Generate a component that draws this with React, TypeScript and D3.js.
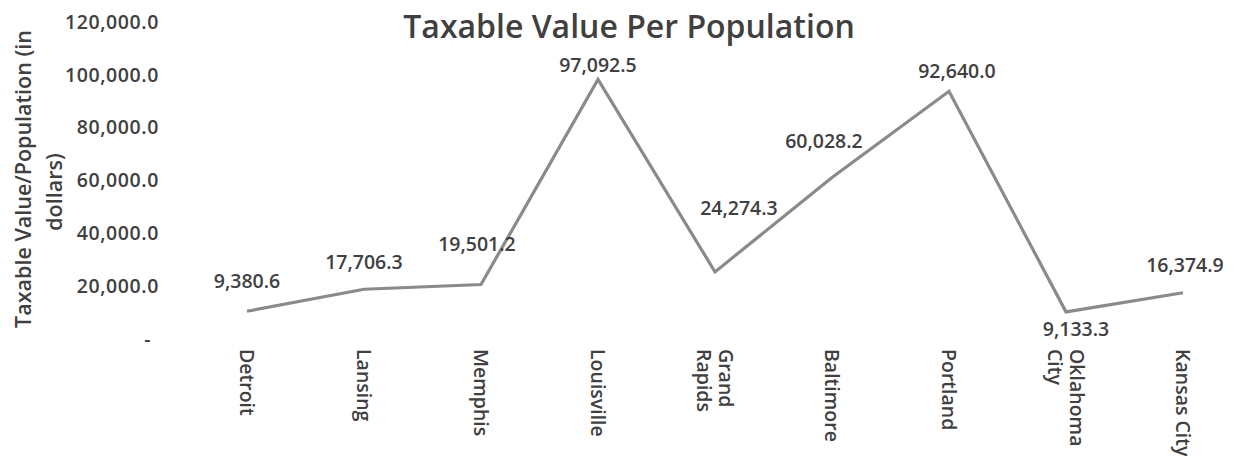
import React from "react";
import * as d3 from "d3";

const categories: string[][] = [
  ["Detroit"],
  ["Lansing"],
  ["Memphis"],
  ["Louisville"],
  ["Grand", "Rapids"],
  ["Baltimore"],
  ["Portland"],
  ["Oklahoma", "City"],
  ["Kansas City"],
];
const values: number[] = [9380.6, 17706.3, 19501.2, 97092.5, 24274.3, 60028.2, 92640.0, 9133.3, 16374.9];
const yTicks: number[] = [0, 20000, 40000, 60000, 80000, 100000, 120000];
// data label offsets relative to each point (manually placed in original)
const labelDx: number[] = [0, 0, -4, 0, 24, -8, 8, 10, 2];
const labelDy: number[] = [-30, -27, -40, -14, -64, -36, -20, 17, -28];

const W = 1239;
const H = 456;
const FONT = "'Open Sans', 'Noto Sans', sans-serif";
const TEXT = "#404040";

export default function App() {
  const x = d3.scalePoint<number>().domain(d3.range(values.length)).range([247, 1183]);
  const y = d3.scaleLinear().domain([0, 120000]).range([336, 19]);
  const line = d3
    .line<number>()
    .x((_, i) => x(i) as number)
    .y((d) => y(d));
  const fmt = d3.format(",.1f");

  return (
    <svg
      width={W}
      height={H}
      style={{ position: "absolute", left: 0, top: 0, background: "#fff" }}
      fontFamily={FONT}
    >
      <rect width={W} height={H} fill="#fff" />
      <text x={629} y={38} textAnchor="middle" fontSize={32} fontWeight={600} fill={TEXT}>
        Taxable Value Per Population
      </text>
      {/* y axis title */}
      <text
        transform={`translate(31,179) rotate(-90)`}
        textAnchor="middle"
        fontSize={21.5}
        fontWeight={600}
        fill={TEXT}
      >
        Taxable Value/Population (in
      </text>
      <text
        transform={`translate(62,192) rotate(-90)`}
        textAnchor="middle"
        fontSize={21.5}
        fontWeight={600}
        fill={TEXT}
      >
        dollars)
      </text>
      {/* y tick labels */}
      {yTicks.map((t) => (
        <text
          key={t}
          x={t === 0 ? 151 : 159}
          y={y(t) + 3}
          dy="0.35em"
          textAnchor="end"
          fontSize={19.5}
          letterSpacing={0.6}
          fontWeight={600}
          fill={TEXT}
        >
          {t === 0 ? "-" : fmt(t)}
        </text>
      ))}
      {/* line */}
      <path d={line(values) || ""} fill="none" stroke="#8a8a8a" strokeWidth={3.2} strokeLinejoin="miter" />
      {/* data labels */}
      {values.map((v, i) => (
        <text
          key={i}
          x={(x(i) as number) + labelDx[i]}
          y={y(v) + labelDy[i]}
          dy="0.35em"
          textAnchor="middle"
          fontSize={19.5}
          fontWeight={600}
          fill={TEXT}
        >
          {fmt(v)}
        </text>
      ))}
      {/* category labels */}
      {categories.map((lines, i) => {
        const n = lines.length;
        return (
          <text
            key={i}
            transform={`translate(${x(i)},349) rotate(90)`}
            textAnchor="start"
            fontSize={19.5}
            fontWeight={600}
            fill={TEXT}
          >
            {lines.map((l, j) => (
              <tspan key={j} x={0} y={0} dy={`${(j - (n - 1) / 2) * 1.1 + 0.35}em`}>
                {l}
              </tspan>
            ))}
          </text>
        );
      })}
    </svg>
  );
}
